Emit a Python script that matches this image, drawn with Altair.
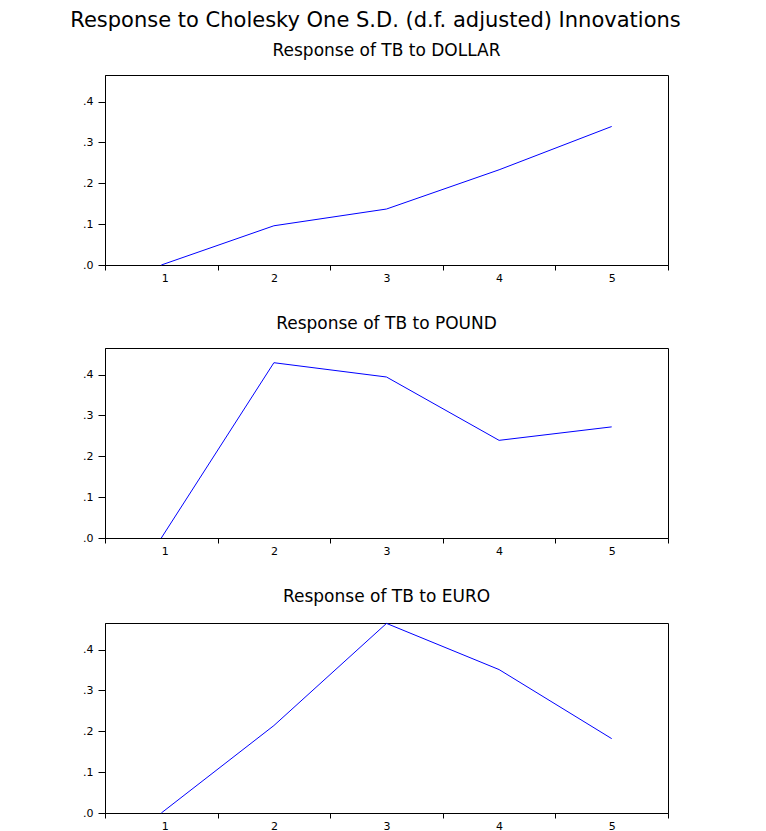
import altair as alt
import pandas as pd

periods = [1, 2, 3, 4, 5]
dollar = [0.0, 0.096, 0.137, 0.233, 0.339]
pound = [0.0, 0.429, 0.394, 0.239, 0.272]
euro = [0.0, 0.214, 0.464, 0.351, 0.182]

main_title = "Response to Cholesky One S.D. (d.f. adjusted) Innovations"
panel_titles = ["Response of TB to DOLLAR", "Response of TB to POUND", "Response of TB to EURO"]
y_ticks = [0.0, 0.1, 0.2, 0.3, 0.4]
x_ticks = [0.5, 1.5, 2.5, 3.5, 4.5, 5.5]

FONT = "DejaVu Sans"
W, H = 563, 190


def panel(values, title):
    df = pd.DataFrame({"period": periods, "value": values})
    return (
        alt.Chart(df)
        .mark_line(color="#0000FF", strokeWidth=1)
        .encode(
            x=alt.X(
                "period:Q",
                scale=alt.Scale(domain=[0.5, 5.5], nice=False, zero=False),
                axis=alt.Axis(
                    values=x_ticks,
                    labelExpr="datum.value < 5 ? format(datum.value + 0.5, 'd') : ''",
                    labelOffset=W / 10,
                    title=None,
                    grid=False,
                    tickSize=5,
                    labelPadding=2,
                ),
            ),
            y=alt.Y(
                "value:Q",
                scale=alt.Scale(domain=[0, 0.465], nice=False),
                axis=alt.Axis(
                    values=y_ticks,
                    labelExpr="replace(format(datum.value, '.1f'), '0.', '.')",
                    title=None,
                    grid=False,
                    tickSize=7,
                    labelPadding=5,
                ),
            ),
        )
        .properties(
            width=W,
            height=H,
            title=alt.TitleParams(title, fontSize=17, font=FONT, fontWeight="normal", offset=15, anchor="middle"),
        )
    )


chart = (
    alt.vconcat(*[panel(v, t) for v, t in zip([dollar, pound, euro], panel_titles)], spacing=30)
    .properties(
        title=alt.TitleParams(main_title, fontSize=21, font=FONT, fontWeight="normal", anchor="middle", offset=11),
        padding={"left": 62, "top": 1, "right": 5, "bottom": 5},
    )
    .configure_view(stroke="#000000", strokeWidth=1)
    .configure_axis(
        domainColor="#000000",
        tickColor="#000000",
        labelColor="#000000",
        labelFont=FONT,
        labelFontSize=11,
    )
    .configure_title(color="#000000")
)

chart.save("out.html", embed_options={"renderer": "svg", "actions": False})
